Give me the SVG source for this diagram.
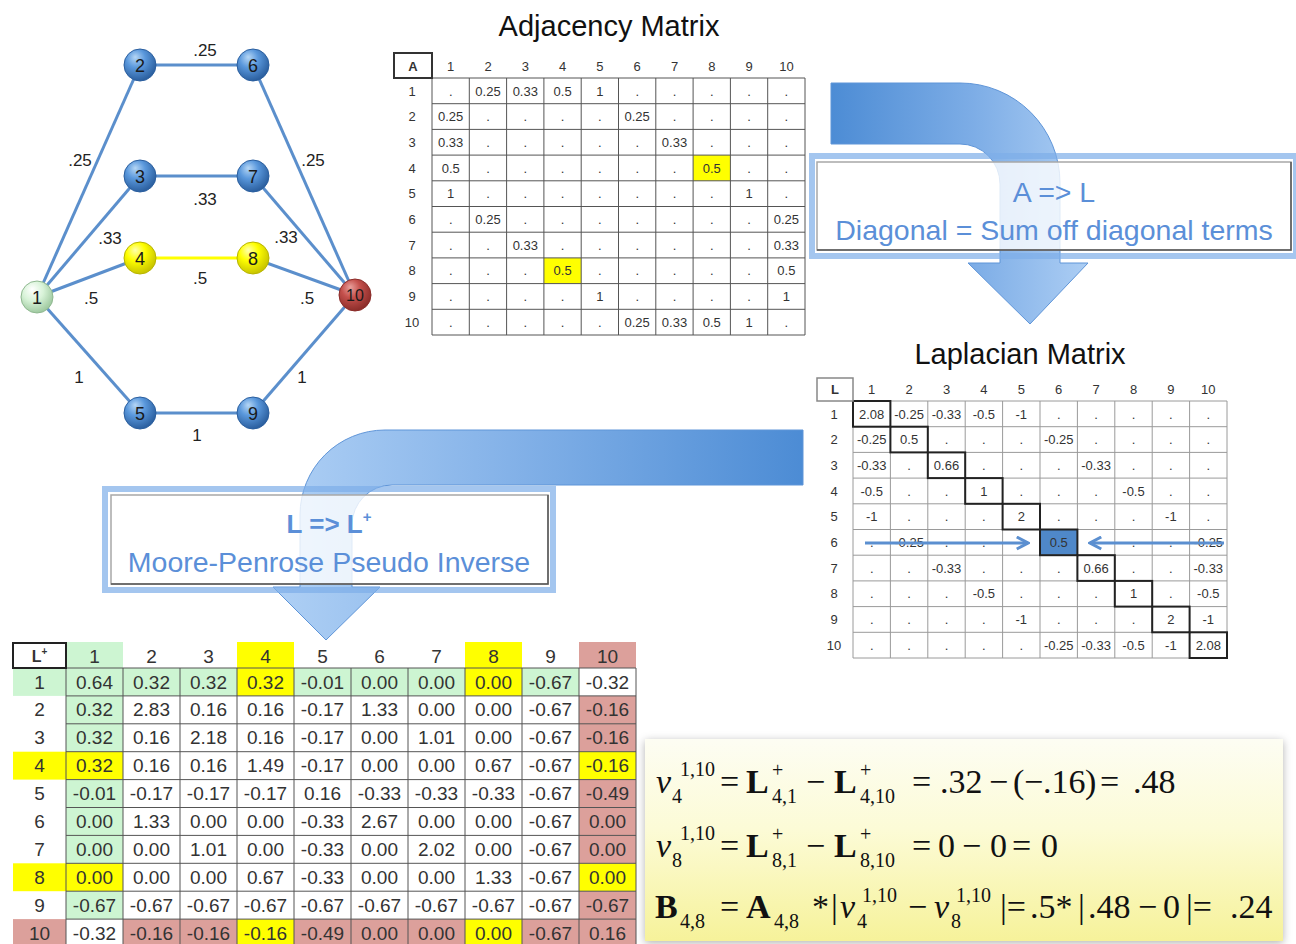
<svg xmlns="http://www.w3.org/2000/svg" width="1296" height="944" viewBox="0 0 1296 944">
<style>
.lbl{font-family:"Liberation Sans",Arial,sans-serif;fill:#222}
.ta{font-family:"Liberation Sans",Arial,sans-serif;font-size:13px;fill:#333;text-anchor:middle}
.tp{font-family:"Liberation Sans",Arial,sans-serif;font-size:19px;fill:#333;text-anchor:middle}
.title{font-family:"Liberation Sans",Arial,sans-serif;font-size:29px;fill:#111;text-anchor:middle}
.band{font-family:"Liberation Sans",Arial,sans-serif;font-size:28.5px;fill:#5b8fd8;text-anchor:middle}
.grid{fill:none;stroke:#555;stroke-width:1}
.lgrid{fill:none;stroke:#9a9a9a;stroke-width:1}
.diag{fill:none;stroke:#222;stroke-width:2}
.edge{stroke:#5b8fcc;stroke-width:3;fill:none}
.nlab{font-family:"Liberation Sans",Arial,sans-serif;font-size:18px;fill:#1a1a1a;text-anchor:middle}
.elab{font-family:"Liberation Sans",Arial,sans-serif;font-size:17px;fill:#222;text-anchor:middle}
.fm{font-family:"Liberation Serif","Times New Roman",serif;font-size:34px;fill:#111}
.fs{font-family:"Liberation Serif","Times New Roman",serif;font-size:20px;fill:#111}
.g{fill:#cdf5d2}.y{fill:#ffff00}.r{fill:#dca09b}
</style>
<defs>
<radialGradient id="nBlue" cx="0.4" cy="0.35" r="0.65" fx="0.35" fy="0.25">
<stop offset="0" stop-color="#b5d6f5"/><stop offset="0.45" stop-color="#5a98dc"/><stop offset="1" stop-color="#2b5f9f"/></radialGradient>
<radialGradient id="nYellow" cx="0.4" cy="0.35" r="0.65" fx="0.35" fy="0.25">
<stop offset="0" stop-color="#ffffb0"/><stop offset="0.45" stop-color="#ffff00"/><stop offset="1" stop-color="#c8c400"/></radialGradient>
<radialGradient id="nGreen" cx="0.4" cy="0.35" r="0.65" fx="0.35" fy="0.25">
<stop offset="0" stop-color="#ffffff"/><stop offset="0.5" stop-color="#d8f3d8"/><stop offset="1" stop-color="#9fc9a0"/></radialGradient>
<radialGradient id="nRed" cx="0.4" cy="0.35" r="0.65" fx="0.35" fy="0.25">
<stop offset="0" stop-color="#e9a09c"/><stop offset="0.45" stop-color="#c4504c"/><stop offset="1" stop-color="#8c2d2a"/></radialGradient>
<linearGradient id="arr1" gradientUnits="userSpaceOnUse" x1="831" y1="0" x2="1090" y2="0">
<stop offset="0" stop-color="#3d82d1"/><stop offset="0.55" stop-color="#72a6e4"/><stop offset="1" stop-color="#a6caf3"/></linearGradient>
<linearGradient id="arr2" gradientUnits="userSpaceOnUse" x1="803" y1="0" x2="273" y2="0">
<stop offset="0" stop-color="#3d82d1"/><stop offset="0.55" stop-color="#79abe6"/><stop offset="1" stop-color="#a8ccf4"/></linearGradient>
<linearGradient id="fbox" x1="0" y1="0" x2="0" y2="1">
<stop offset="0" stop-color="#fdfdf3"/><stop offset="0.45" stop-color="#fcfbd6"/><stop offset="1" stop-color="#f6f29a"/></linearGradient>
<filter id="shadow" x="-5%" y="-10%" width="110%" height="125%">
<feDropShadow dx="0" dy="2" stdDeviation="4" flood-color="#000" flood-opacity="0.3"/></filter>
<marker id="chev" viewBox="0 0 10 10" refX="8.5" refY="5" markerWidth="5" markerHeight="5" orient="auto" markerUnits="strokeWidth">
<path d="M1,1 L8.5,5 L1,9" fill="none" stroke="#5b8fd0" stroke-width="2"/></marker>
</defs>

<rect width="1296" height="944" fill="#ffffff"/>

<!-- Graph connectors -->
<g id="connectors">
<line class="edge" x1="140" y1="65" x2="253" y2="65"/>
<line class="edge" x1="37" y1="297" x2="140" y2="65"/>
<line class="edge" x1="253" y1="65" x2="355" y2="295"/>
<line class="edge" x1="140" y1="176" x2="253" y2="176"/>
<line class="edge" x1="37" y1="297" x2="140" y2="176"/>
<line class="edge" x1="253" y1="176" x2="355" y2="295"/>
<line class="edge" x1="140" y1="258" x2="253" y2="258" style="stroke:#ffff00"/>
<line class="edge" x1="37" y1="297" x2="140" y2="258"/>
<line class="edge" x1="253" y1="258" x2="355" y2="295"/>
<line class="edge" x1="37" y1="297" x2="140" y2="413"/>
<line class="edge" x1="140" y1="413" x2="253" y2="413"/>
<line class="edge" x1="253" y1="413" x2="355" y2="295"/>
<text class="elab" x="205" y="56">.25</text>
<text class="elab" x="80" y="166">.25</text>
<text class="elab" x="313" y="166">.25</text>
<text class="elab" x="205" y="205">.33</text>
<text class="elab" x="110" y="244">.33</text>
<text class="elab" x="286" y="243">.33</text>
<text class="elab" x="200" y="284">.5</text>
<text class="elab" x="91" y="304">.5</text>
<text class="elab" x="307" y="304">.5</text>
<text class="elab" x="79" y="383">1</text>
<text class="elab" x="302" y="383">1</text>
<text class="elab" x="197" y="441">1</text>
</g>

<g id="node1"><circle cx="37" cy="297" r="16" fill="url(#nGreen)" stroke="#8fb890" stroke-width="1"/><text class="nlab" x="37" y="304">1</text></g>
<g id="node2"><circle cx="140" cy="65" r="16" fill="url(#nBlue)" stroke="#2b5f9f" stroke-width="1"/><text class="nlab" x="140" y="72">2</text></g>
<g id="node3"><circle cx="140" cy="176" r="16" fill="url(#nBlue)" stroke="#2b5f9f" stroke-width="1"/><text class="nlab" x="140" y="183">3</text></g>
<g id="node4"><circle cx="140" cy="258" r="16" fill="url(#nYellow)" stroke="#b8b400" stroke-width="1"/><text class="nlab" x="140" y="265">4</text></g>
<g id="node5"><circle cx="140" cy="413" r="16" fill="url(#nBlue)" stroke="#2b5f9f" stroke-width="1"/><text class="nlab" x="140" y="420">5</text></g>
<g id="node6"><circle cx="253" cy="65" r="16" fill="url(#nBlue)" stroke="#2b5f9f" stroke-width="1"/><text class="nlab" x="253" y="72">6</text></g>
<g id="node7"><circle cx="253" cy="176" r="16" fill="url(#nBlue)" stroke="#2b5f9f" stroke-width="1"/><text class="nlab" x="253" y="183">7</text></g>
<g id="node8"><circle cx="253" cy="258" r="16" fill="url(#nYellow)" stroke="#b8b400" stroke-width="1"/><text class="nlab" x="253" y="265">8</text></g>
<g id="node9"><circle cx="253" cy="413" r="16" fill="url(#nBlue)" stroke="#2b5f9f" stroke-width="1"/><text class="nlab" x="253" y="420">9</text></g>
<g id="node10"><circle cx="355" cy="295" r="16" fill="url(#nRed)" stroke="#8c2d2a" stroke-width="1"/><text class="nlab" x="355" y="301" style="font-size:16px">10</text></g>

<!-- Adjacency matrix -->
<g id="adjacency">
<text class="title" x="609" y="36">Adjacency Matrix</text>
<rect class="y" x="693.1" y="155.1" width="37.3" height="25.7"/>
<rect class="y" x="543.9" y="257.9" width="37.3" height="25.7"/>
<path class="grid" d="M432 78H805M432 103.7H805M432 129.4H805M432 155.1H805M432 180.8H805M432 206.5H805M432 232.2H805M432 257.9H805M432 283.6H805M432 309.3H805M432 335H805M432 78V335M469.3 78V335M506.6 78V335M543.9 78V335M581.2 78V335M618.5 78V335M655.8 78V335M693.1 78V335M730.4 78V335M767.7 78V335M805 78V335"/>
<rect x="394" y="53" width="38" height="25" fill="#fff" stroke="#333" stroke-width="2"/>
<text class="ta" x="413" y="71" style="font-weight:bold">A</text>
<text class="ta" y="71"><tspan x="450.7">1</tspan><tspan x="488">2</tspan><tspan x="525.3">3</tspan><tspan x="562.6">4</tspan><tspan x="599.9">5</tspan><tspan x="637.2">6</tspan><tspan x="674.5">7</tspan><tspan x="711.8">8</tspan><tspan x="749.1">9</tspan><tspan x="786.4">10</tspan></text>
<text class="ta" x="412"><tspan x="412" y="95.5">1</tspan><tspan x="412" y="121.2">2</tspan><tspan x="412" y="146.9">3</tspan><tspan x="412" y="172.6">4</tspan><tspan x="412" y="198.3">5</tspan><tspan x="412" y="224">6</tspan><tspan x="412" y="249.7">7</tspan><tspan x="412" y="275.4">8</tspan><tspan x="412" y="301.1">9</tspan><tspan x="412" y="326.8">10</tspan></text>
<text class="ta" y="95.5"><tspan x="450.7">.</tspan><tspan x="488">0.25</tspan><tspan x="525.3">0.33</tspan><tspan x="562.6">0.5</tspan><tspan x="599.9">1</tspan><tspan x="637.2">.</tspan><tspan x="674.5">.</tspan><tspan x="711.8">.</tspan><tspan x="749.1">.</tspan><tspan x="786.4">.</tspan></text>
<text class="ta" y="121.2"><tspan x="450.7">0.25</tspan><tspan x="488">.</tspan><tspan x="525.3">.</tspan><tspan x="562.6">.</tspan><tspan x="599.9">.</tspan><tspan x="637.2">0.25</tspan><tspan x="674.5">.</tspan><tspan x="711.8">.</tspan><tspan x="749.1">.</tspan><tspan x="786.4">.</tspan></text>
<text class="ta" y="146.9"><tspan x="450.7">0.33</tspan><tspan x="488">.</tspan><tspan x="525.3">.</tspan><tspan x="562.6">.</tspan><tspan x="599.9">.</tspan><tspan x="637.2">.</tspan><tspan x="674.5">0.33</tspan><tspan x="711.8">.</tspan><tspan x="749.1">.</tspan><tspan x="786.4">.</tspan></text>
<text class="ta" y="172.6"><tspan x="450.7">0.5</tspan><tspan x="488">.</tspan><tspan x="525.3">.</tspan><tspan x="562.6">.</tspan><tspan x="599.9">.</tspan><tspan x="637.2">.</tspan><tspan x="674.5">.</tspan><tspan x="711.8">0.5</tspan><tspan x="749.1">.</tspan><tspan x="786.4">.</tspan></text>
<text class="ta" y="198.3"><tspan x="450.7">1</tspan><tspan x="488">.</tspan><tspan x="525.3">.</tspan><tspan x="562.6">.</tspan><tspan x="599.9">.</tspan><tspan x="637.2">.</tspan><tspan x="674.5">.</tspan><tspan x="711.8">.</tspan><tspan x="749.1">1</tspan><tspan x="786.4">.</tspan></text>
<text class="ta" y="224"><tspan x="450.7">.</tspan><tspan x="488">0.25</tspan><tspan x="525.3">.</tspan><tspan x="562.6">.</tspan><tspan x="599.9">.</tspan><tspan x="637.2">.</tspan><tspan x="674.5">.</tspan><tspan x="711.8">.</tspan><tspan x="749.1">.</tspan><tspan x="786.4">0.25</tspan></text>
<text class="ta" y="249.7"><tspan x="450.7">.</tspan><tspan x="488">.</tspan><tspan x="525.3">0.33</tspan><tspan x="562.6">.</tspan><tspan x="599.9">.</tspan><tspan x="637.2">.</tspan><tspan x="674.5">.</tspan><tspan x="711.8">.</tspan><tspan x="749.1">.</tspan><tspan x="786.4">0.33</tspan></text>
<text class="ta" y="275.4"><tspan x="450.7">.</tspan><tspan x="488">.</tspan><tspan x="525.3">.</tspan><tspan x="562.6">0.5</tspan><tspan x="599.9">.</tspan><tspan x="637.2">.</tspan><tspan x="674.5">.</tspan><tspan x="711.8">.</tspan><tspan x="749.1">.</tspan><tspan x="786.4">0.5</tspan></text>
<text class="ta" y="301.1"><tspan x="450.7">.</tspan><tspan x="488">.</tspan><tspan x="525.3">.</tspan><tspan x="562.6">.</tspan><tspan x="599.9">1</tspan><tspan x="637.2">.</tspan><tspan x="674.5">.</tspan><tspan x="711.8">.</tspan><tspan x="749.1">.</tspan><tspan x="786.4">1</tspan></text>
<text class="ta" y="326.8"><tspan x="450.7">.</tspan><tspan x="488">.</tspan><tspan x="525.3">.</tspan><tspan x="562.6">.</tspan><tspan x="599.9">.</tspan><tspan x="637.2">0.25</tspan><tspan x="674.5">0.33</tspan><tspan x="711.8">0.5</tspan><tspan x="749.1">1</tspan><tspan x="786.4">.</tspan></text>
</g>

<!-- Arrow A => L -->
<g id="step1">
<path d="M831 83 L960 83 A100 100 0 0 1 1060 183 L1060 263 L1088 263 L1030 324 L968 263 L1000 263 L1000 184 A40 40 0 0 0 960 144 L831 144 Z" fill="url(#arr1)" fill-opacity="0.92" stroke="#5f95d8" stroke-width="1"/>
<rect x="812" y="156" width="484" height="100" fill="none" stroke="#7eaee8" stroke-width="6" opacity="0.7"/>
<rect x="817" y="162" width="474" height="88" fill="#ffffff" fill-opacity="0.8" stroke="#a8a8a8" stroke-width="1.5"/>
<path d="M1291 162V250H817" fill="none" stroke="#555" stroke-width="1.5"/>
<text class="band" x="1054" y="202">A =&gt; L</text>
<text class="band" x="1054" y="240">Diagonal = Sum off diagonal terms</text>
</g>

<!-- Laplacian matrix -->
<g id="laplacian">
<text class="title" x="1020" y="364">Laplacian Matrix</text>
<rect x="1040" y="529.5" width="37.4" height="25.7" fill="#4f88c9"/>
<path class="lgrid" d="M853 401H1227M853 426.7H1227M853 452.4H1227M853 478.1H1227M853 503.8H1227M853 529.5H1227M853 555.2H1227M853 580.9H1227M853 606.6H1227M853 632.3H1227M853 658H1227M853 401V658M890.4 401V658M927.8 401V658M965.2 401V658M1002.6 401V658M1040 401V658M1077.4 401V658M1114.8 401V658M1152.2 401V658M1189.6 401V658M1227 401V658"/>
<rect class="diag" x="853" y="401" width="37.4" height="25.7"/>
<rect class="diag" x="890.4" y="426.7" width="37.4" height="25.7"/>
<rect class="diag" x="927.8" y="452.4" width="37.4" height="25.7"/>
<rect class="diag" x="965.2" y="478.1" width="37.4" height="25.7"/>
<rect class="diag" x="1002.6" y="503.8" width="37.4" height="25.7"/>
<rect class="diag" x="1040" y="529.5" width="37.4" height="25.7"/>
<rect class="diag" x="1077.4" y="555.2" width="37.4" height="25.7"/>
<rect class="diag" x="1114.8" y="580.9" width="37.4" height="25.7"/>
<rect class="diag" x="1152.2" y="606.6" width="37.4" height="25.7"/>
<rect class="diag" x="1189.6" y="632.3" width="37.4" height="25.7"/>
<rect x="817" y="378" width="36" height="23" fill="#fff" stroke="#888" stroke-width="1.5"/>
<text class="ta" x="835" y="394" style="font-weight:bold">L</text>
<text class="ta" y="394"><tspan x="871.7">1</tspan><tspan x="909.1">2</tspan><tspan x="946.5">3</tspan><tspan x="983.9">4</tspan><tspan x="1021.3">5</tspan><tspan x="1058.7">6</tspan><tspan x="1096.1">7</tspan><tspan x="1133.5">8</tspan><tspan x="1170.9">9</tspan><tspan x="1208.3">10</tspan></text>
<text class="ta"><tspan x="834" y="418.5">1</tspan><tspan x="834" y="444.2">2</tspan><tspan x="834" y="469.9">3</tspan><tspan x="834" y="495.6">4</tspan><tspan x="834" y="521.3">5</tspan><tspan x="834" y="547">6</tspan><tspan x="834" y="572.7">7</tspan><tspan x="834" y="598.4">8</tspan><tspan x="834" y="624.1">9</tspan><tspan x="834" y="649.8">10</tspan></text>
<text class="ta" y="418.5"><tspan x="871.7">2.08</tspan><tspan x="909.1">-0.25</tspan><tspan x="946.5">-0.33</tspan><tspan x="983.9">-0.5</tspan><tspan x="1021.3">-1</tspan><tspan x="1058.7">.</tspan><tspan x="1096.1">.</tspan><tspan x="1133.5">.</tspan><tspan x="1170.9">.</tspan><tspan x="1208.3">.</tspan></text>
<text class="ta" y="444.2"><tspan x="871.7">-0.25</tspan><tspan x="909.1">0.5</tspan><tspan x="946.5">.</tspan><tspan x="983.9">.</tspan><tspan x="1021.3">.</tspan><tspan x="1058.7">-0.25</tspan><tspan x="1096.1">.</tspan><tspan x="1133.5">.</tspan><tspan x="1170.9">.</tspan><tspan x="1208.3">.</tspan></text>
<text class="ta" y="469.9"><tspan x="871.7">-0.33</tspan><tspan x="909.1">.</tspan><tspan x="946.5">0.66</tspan><tspan x="983.9">.</tspan><tspan x="1021.3">.</tspan><tspan x="1058.7">.</tspan><tspan x="1096.1">-0.33</tspan><tspan x="1133.5">.</tspan><tspan x="1170.9">.</tspan><tspan x="1208.3">.</tspan></text>
<text class="ta" y="495.6"><tspan x="871.7">-0.5</tspan><tspan x="909.1">.</tspan><tspan x="946.5">.</tspan><tspan x="983.9">1</tspan><tspan x="1021.3">.</tspan><tspan x="1058.7">.</tspan><tspan x="1096.1">.</tspan><tspan x="1133.5">-0.5</tspan><tspan x="1170.9">.</tspan><tspan x="1208.3">.</tspan></text>
<text class="ta" y="521.3"><tspan x="871.7">-1</tspan><tspan x="909.1">.</tspan><tspan x="946.5">.</tspan><tspan x="983.9">.</tspan><tspan x="1021.3">2</tspan><tspan x="1058.7">.</tspan><tspan x="1096.1">.</tspan><tspan x="1133.5">.</tspan><tspan x="1170.9">-1</tspan><tspan x="1208.3">.</tspan></text>
<text class="ta" y="547"><tspan x="871.7">.</tspan><tspan x="909.1">-0.25</tspan><tspan x="946.5">.</tspan><tspan x="983.9">.</tspan><tspan x="1021.3">.</tspan><tspan x="1058.7">0.5</tspan><tspan x="1096.1">.</tspan><tspan x="1133.5">.</tspan><tspan x="1170.9">.</tspan><tspan x="1208.3">-0.25</tspan></text>
<text class="ta" y="572.7"><tspan x="871.7">.</tspan><tspan x="909.1">.</tspan><tspan x="946.5">-0.33</tspan><tspan x="983.9">.</tspan><tspan x="1021.3">.</tspan><tspan x="1058.7">.</tspan><tspan x="1096.1">0.66</tspan><tspan x="1133.5">.</tspan><tspan x="1170.9">.</tspan><tspan x="1208.3">-0.33</tspan></text>
<text class="ta" y="598.4"><tspan x="871.7">.</tspan><tspan x="909.1">.</tspan><tspan x="946.5">.</tspan><tspan x="983.9">-0.5</tspan><tspan x="1021.3">.</tspan><tspan x="1058.7">.</tspan><tspan x="1096.1">.</tspan><tspan x="1133.5">1</tspan><tspan x="1170.9">.</tspan><tspan x="1208.3">-0.5</tspan></text>
<text class="ta" y="624.1"><tspan x="871.7">.</tspan><tspan x="909.1">.</tspan><tspan x="946.5">.</tspan><tspan x="983.9">.</tspan><tspan x="1021.3">-1</tspan><tspan x="1058.7">.</tspan><tspan x="1096.1">.</tspan><tspan x="1133.5">.</tspan><tspan x="1170.9">2</tspan><tspan x="1208.3">-1</tspan></text>
<text class="ta" y="649.8"><tspan x="871.7">.</tspan><tspan x="909.1">.</tspan><tspan x="946.5">.</tspan><tspan x="983.9">.</tspan><tspan x="1021.3">.</tspan><tspan x="1058.7">-0.25</tspan><tspan x="1096.1">-0.33</tspan><tspan x="1133.5">-0.5</tspan><tspan x="1170.9">-1</tspan><tspan x="1208.3">2.08</tspan></text>
<line x1="865" y1="543" x2="1028" y2="543" stroke="#5b8fd0" stroke-width="3" marker-end="url(#chev)"/>
<line x1="1224" y1="543" x2="1090" y2="543" stroke="#5b8fd0" stroke-width="3" marker-end="url(#chev)"/>
</g>

<!-- Arrow L => L+ -->
<g id="step2">
<path d="M803 430 L385 430 A85 85 0 0 0 300 515 L300 587 L273 587 L326 640 L380 587 L352 587 L352 525 A40 40 0 0 1 392 485 L803 485 Z" fill="url(#arr2)" fill-opacity="0.92" stroke="#5f95d8" stroke-width="1"/>
<rect x="105" y="489" width="448" height="101" fill="none" stroke="#7eaee8" stroke-width="6" opacity="0.7"/>
<rect x="111" y="495" width="437" height="89" fill="#ffffff" fill-opacity="0.8" stroke="#a8a8a8" stroke-width="1.5"/>
<path d="M548 495V584H111" fill="none" stroke="#555" stroke-width="1.5"/>
<text class="band" x="329" y="533" style="font-weight:bold;font-size:26px">L =&gt; L<tspan dy="-11" style="font-size:15px">+</tspan></text>
<text class="band" x="329" y="572">Moore-Penrose Pseudo Inverse</text>
</g>

<!-- Pseudo inverse matrix -->
<g id="pseudoinverse">
<rect class="g" x="66" y="642" width="57" height="26"/>
<rect class="y" x="237" y="642" width="57" height="26"/>
<rect class="y" x="465" y="642" width="57" height="26"/>
<rect class="r" x="579" y="642" width="57" height="26"/>
<rect class="g" x="13" y="668" width="53" height="27.9"/>
<rect class="y" x="13" y="751.7" width="53" height="27.9"/>
<rect class="y" x="13" y="863.3" width="53" height="27.9"/>
<rect class="r" x="13" y="919.1" width="53" height="27.9"/>
<rect class="g" x="66" y="668" width="171" height="27.9"/>
<rect class="y" x="237" y="668" width="57" height="27.9"/>
<rect class="g" x="294" y="668" width="171" height="27.9"/>
<rect class="y" x="465" y="668" width="57" height="27.9"/>
<rect class="g" x="522" y="668" width="57" height="27.9"/>
<rect class="g" x="66" y="695.9" width="57" height="55.8"/>
<rect class="y" x="66" y="751.7" width="57" height="27.9"/>
<rect class="g" x="66" y="779.6" width="57" height="83.7"/>
<rect class="y" x="66" y="863.3" width="57" height="27.9"/>
<rect class="g" x="66" y="891.2" width="57" height="27.9"/>
<rect class="r" x="579" y="695.9" width="57" height="55.8"/>
<rect class="y" x="579" y="751.7" width="57" height="27.9"/>
<rect class="r" x="579" y="779.6" width="57" height="83.7"/>
<rect class="y" x="579" y="863.3" width="57" height="27.9"/>
<rect class="r" x="579" y="891.2" width="57" height="55.8"/>
<rect class="r" x="123" y="919.1" width="114" height="27.9"/>
<rect class="y" x="237" y="919.1" width="57" height="27.9"/>
<rect class="r" x="294" y="919.1" width="171" height="27.9"/>
<rect class="y" x="465" y="919.1" width="57" height="27.9"/>
<rect class="r" x="522" y="919.1" width="57" height="27.9"/>
<path class="grid" d="M66 668H636M66 695.9H636M66 723.8H636M66 751.7H636M66 779.6H636M66 807.5H636M66 835.4H636M66 863.3H636M66 891.2H636M66 919.1H636M66 668V947M123 668V947M180 668V947M237 668V947M294 668V947M351 668V947M408 668V947M465 668V947M522 668V947M579 668V947M636 668V947"/>
<rect x="13" y="643" width="53" height="25" fill="#fff" stroke="#222" stroke-width="2"/>
<text class="tp" x="39.5" y="662" style="font-size:16px;font-weight:bold">L<tspan dy="-7" style="font-size:10px">+</tspan></text>
<text class="tp" y="663"><tspan x="94.5">1</tspan><tspan x="151.5">2</tspan><tspan x="208.5">3</tspan><tspan x="265.5">4</tspan><tspan x="322.5">5</tspan><tspan x="379.5">6</tspan><tspan x="436.5">7</tspan><tspan x="493.5">8</tspan><tspan x="550.5">9</tspan><tspan x="607.5">10</tspan></text>
<text class="tp"><tspan x="39.5" y="688.5">1</tspan><tspan x="39.5" y="716.4">2</tspan><tspan x="39.5" y="744.3">3</tspan><tspan x="39.5" y="772.2">4</tspan><tspan x="39.5" y="800.1">5</tspan><tspan x="39.5" y="828">6</tspan><tspan x="39.5" y="855.9">7</tspan><tspan x="39.5" y="883.8">8</tspan><tspan x="39.5" y="911.7">9</tspan><tspan x="39.5" y="939.6">10</tspan></text>
<text class="tp" y="688.5"><tspan x="94.5">0.64</tspan><tspan x="151.5">0.32</tspan><tspan x="208.5">0.32</tspan><tspan x="265.5">0.32</tspan><tspan x="322.5">-0.01</tspan><tspan x="379.5">0.00</tspan><tspan x="436.5">0.00</tspan><tspan x="493.5">0.00</tspan><tspan x="550.5">-0.67</tspan><tspan x="607.5">-0.32</tspan></text>
<text class="tp" y="716.4"><tspan x="94.5">0.32</tspan><tspan x="151.5">2.83</tspan><tspan x="208.5">0.16</tspan><tspan x="265.5">0.16</tspan><tspan x="322.5">-0.17</tspan><tspan x="379.5">1.33</tspan><tspan x="436.5">0.00</tspan><tspan x="493.5">0.00</tspan><tspan x="550.5">-0.67</tspan><tspan x="607.5">-0.16</tspan></text>
<text class="tp" y="744.3"><tspan x="94.5">0.32</tspan><tspan x="151.5">0.16</tspan><tspan x="208.5">2.18</tspan><tspan x="265.5">0.16</tspan><tspan x="322.5">-0.17</tspan><tspan x="379.5">0.00</tspan><tspan x="436.5">1.01</tspan><tspan x="493.5">0.00</tspan><tspan x="550.5">-0.67</tspan><tspan x="607.5">-0.16</tspan></text>
<text class="tp" y="772.2"><tspan x="94.5">0.32</tspan><tspan x="151.5">0.16</tspan><tspan x="208.5">0.16</tspan><tspan x="265.5">1.49</tspan><tspan x="322.5">-0.17</tspan><tspan x="379.5">0.00</tspan><tspan x="436.5">0.00</tspan><tspan x="493.5">0.67</tspan><tspan x="550.5">-0.67</tspan><tspan x="607.5">-0.16</tspan></text>
<text class="tp" y="800.1"><tspan x="94.5">-0.01</tspan><tspan x="151.5">-0.17</tspan><tspan x="208.5">-0.17</tspan><tspan x="265.5">-0.17</tspan><tspan x="322.5">0.16</tspan><tspan x="379.5">-0.33</tspan><tspan x="436.5">-0.33</tspan><tspan x="493.5">-0.33</tspan><tspan x="550.5">-0.67</tspan><tspan x="607.5">-0.49</tspan></text>
<text class="tp" y="828"><tspan x="94.5">0.00</tspan><tspan x="151.5">1.33</tspan><tspan x="208.5">0.00</tspan><tspan x="265.5">0.00</tspan><tspan x="322.5">-0.33</tspan><tspan x="379.5">2.67</tspan><tspan x="436.5">0.00</tspan><tspan x="493.5">0.00</tspan><tspan x="550.5">-0.67</tspan><tspan x="607.5">0.00</tspan></text>
<text class="tp" y="855.9"><tspan x="94.5">0.00</tspan><tspan x="151.5">0.00</tspan><tspan x="208.5">1.01</tspan><tspan x="265.5">0.00</tspan><tspan x="322.5">-0.33</tspan><tspan x="379.5">0.00</tspan><tspan x="436.5">2.02</tspan><tspan x="493.5">0.00</tspan><tspan x="550.5">-0.67</tspan><tspan x="607.5">0.00</tspan></text>
<text class="tp" y="883.8"><tspan x="94.5">0.00</tspan><tspan x="151.5">0.00</tspan><tspan x="208.5">0.00</tspan><tspan x="265.5">0.67</tspan><tspan x="322.5">-0.33</tspan><tspan x="379.5">0.00</tspan><tspan x="436.5">0.00</tspan><tspan x="493.5">1.33</tspan><tspan x="550.5">-0.67</tspan><tspan x="607.5">0.00</tspan></text>
<text class="tp" y="911.7"><tspan x="94.5">-0.67</tspan><tspan x="151.5">-0.67</tspan><tspan x="208.5">-0.67</tspan><tspan x="265.5">-0.67</tspan><tspan x="322.5">-0.67</tspan><tspan x="379.5">-0.67</tspan><tspan x="436.5">-0.67</tspan><tspan x="493.5">-0.67</tspan><tspan x="550.5">-0.67</tspan><tspan x="607.5">-0.67</tspan></text>
<text class="tp" y="939.6"><tspan x="94.5">-0.32</tspan><tspan x="151.5">-0.16</tspan><tspan x="208.5">-0.16</tspan><tspan x="265.5">-0.16</tspan><tspan x="322.5">-0.49</tspan><tspan x="379.5">0.00</tspan><tspan x="436.5">0.00</tspan><tspan x="493.5">0.00</tspan><tspan x="550.5">-0.67</tspan><tspan x="607.5">0.16</tspan></text>
</g>

<!-- Formula box -->
<g id="formulas">
<rect x="645" y="739" width="638" height="202" fill="url(#fbox)" filter="url(#shadow)"/>
<text class="fm" y="793"><tspan x="656" style="font-style:italic">v</tspan><tspan x="720">=</tspan><tspan x="746" style="font-weight:bold">L</tspan><tspan x="806">−</tspan><tspan x="834" style="font-weight:bold">L</tspan><tspan x="912">=</tspan><tspan x="940">.32</tspan><tspan x="989">−</tspan><tspan x="1013">(</tspan><tspan x="1024">−</tspan><tspan x="1043">.16</tspan><tspan x="1085">)</tspan><tspan x="1100">=</tspan><tspan x="1133">.48</tspan></text>
<text class="fs"><tspan x="680" y="776">1,10</tspan><tspan x="672" y="803">4</tspan><tspan x="772" y="777">+</tspan><tspan x="772" y="803">4,1</tspan><tspan x="860" y="777">+</tspan><tspan x="860" y="803">4,10</tspan></text>
<text class="fm" y="857"><tspan x="656" style="font-style:italic">v</tspan><tspan x="720">=</tspan><tspan x="746" style="font-weight:bold">L</tspan><tspan x="806">−</tspan><tspan x="834" style="font-weight:bold">L</tspan><tspan x="912">=</tspan><tspan x="938">0</tspan><tspan x="962">−</tspan><tspan x="990">0</tspan><tspan x="1012">=</tspan><tspan x="1041">0</tspan></text>
<text class="fs"><tspan x="680" y="840">1,10</tspan><tspan x="672" y="867">8</tspan><tspan x="772" y="841">+</tspan><tspan x="772" y="867">8,1</tspan><tspan x="860" y="841">+</tspan><tspan x="860" y="867">8,10</tspan></text>
<text class="fm" y="918"><tspan x="655" style="font-weight:bold">B</tspan><tspan x="720">=</tspan><tspan x="746" style="font-weight:bold">A</tspan><tspan x="812">*</tspan><tspan x="831">|</tspan><tspan x="840" style="font-style:italic">v</tspan><tspan x="908">−</tspan><tspan x="934" style="font-style:italic">v</tspan><tspan x="1000">|=</tspan><tspan x="1030">.5*</tspan><tspan x="1078">|</tspan><tspan x="1088">.48</tspan><tspan x="1138">−</tspan><tspan x="1163">0</tspan><tspan x="1186">|=</tspan><tspan x="1230">.24</tspan></text>
<text class="fs"><tspan x="680" y="928">4,8</tspan><tspan x="774" y="928">4,8</tspan><tspan x="862" y="902">1,10</tspan><tspan x="857" y="928">4</tspan><tspan x="956" y="902">1,10</tspan><tspan x="951" y="928">8</tspan></text>
</g>
</svg>
